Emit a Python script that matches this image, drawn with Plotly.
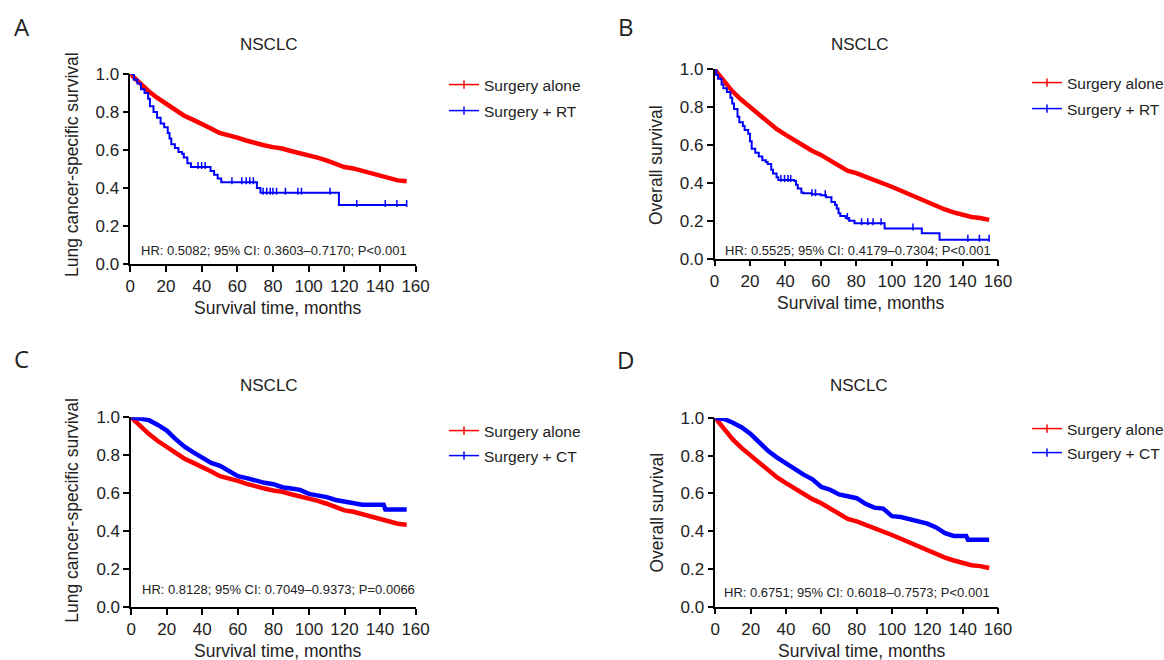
import numpy as np
import plotly.graph_objects as go

# ---------------- data ----------------
time_grid = [0, 5, 10, 15, 20, 25, 30, 35, 40, 45, 50, 55, 60, 65, 70, 75, 80, 85,
             90, 95, 100, 105, 110, 115, 120, 125, 130, 135, 140, 145, 150, 155]
# Surgery alone, lung cancer-specific survival (panels A, C)
alone_lcss = [1.0, 0.955, 0.912, 0.875, 0.845, 0.815, 0.782, 0.76, 0.74, 0.715, 0.69, 0.68,
              0.665, 0.65, 0.635, 0.625, 0.615, 0.608, 0.595, 0.585, 0.57, 0.56, 0.545, 0.525,
              0.51, 0.503, 0.49, 0.475, 0.46, 0.45, 0.44, 0.435]
# Surgery alone, overall survival (panels B, D)
alone_os = [1.0, 0.94, 0.885, 0.84, 0.8, 0.765, 0.725, 0.685, 0.655, 0.625, 0.595, 0.57,
            0.548, 0.52, 0.495, 0.465, 0.452, 0.435, 0.415, 0.395, 0.38, 0.36, 0.34, 0.315,
            0.3, 0.28, 0.26, 0.245, 0.23, 0.22, 0.215, 0.205]

# Surgery + RT, LCSS (panel A) - step curve
rt_lcss_t = [0, 2, 4, 6, 8, 10, 11, 13, 15, 17, 19, 21, 22, 23, 25, 27, 29, 30, 32, 34,
             45, 47, 49, 51, 71, 73, 117, 155]
rt_lcss_s = [1.0, 0.97, 0.95, 0.92, 0.90, 0.87, 0.83, 0.80, 0.77, 0.74, 0.72, 0.69, 0.66,
             0.63, 0.61, 0.59, 0.58, 0.56, 0.53, 0.51, 0.49, 0.47, 0.45, 0.43, 0.40, 0.375,
             0.31, 0.31]
rt_lcss_cens = [38, 40, 42, 57, 62.5, 65, 67, 69, 74.5, 76.5, 78.5, 80, 82, 87, 94, 96,
                112, 127, 143, 149.5, 155]

# Surgery + RT, OS (panel B) - step curve
rt_os_t = [0, 1, 2, 4, 5, 7, 9, 10, 11, 13, 14, 16, 17, 19, 20, 21, 23, 25, 27, 29, 30, 32,
           33, 35, 36, 45, 46, 47, 49, 50, 55, 60, 63, 66, 68, 69, 70, 71, 74, 76, 79, 96,
           117, 127, 155]
rt_os_s = [1.0, 0.97, 0.95, 0.92, 0.90, 0.88, 0.85, 0.82, 0.79, 0.75, 0.72, 0.70, 0.68,
           0.66, 0.62, 0.58, 0.56, 0.54, 0.52, 0.51, 0.50, 0.47, 0.45, 0.43, 0.415, 0.41,
           0.39, 0.37, 0.35, 0.345, 0.34, 0.335, 0.325, 0.30, 0.285, 0.265, 0.24, 0.225,
           0.215, 0.20, 0.187, 0.16, 0.134, 0.10, 0.10]
rt_os_cens = [37.5, 39.5, 41.5, 43, 55, 57, 62.5, 75, 83, 86.5, 89.5, 94, 112, 143, 149.5, 155]

# Surgery + CT (panels C, D)
ct_t = [0, 5, 10, 15, 20, 25, 30, 35, 40, 45, 50, 55, 60, 65, 70, 75, 80, 85, 90, 95, 100,
        105, 110, 115, 120, 125, 130, 135, 140, 142, 143, 145, 150, 155]
ct_lcss = [1.0, 0.995, 0.985, 0.96, 0.93, 0.885, 0.845, 0.815, 0.79, 0.76, 0.745, 0.72,
           0.69, 0.68, 0.665, 0.655, 0.648, 0.632, 0.625, 0.618, 0.597, 0.59, 0.58, 0.565,
           0.558, 0.55, 0.54, 0.54, 0.54, 0.54, 0.515, 0.515, 0.515, 0.515]
ct_os = [1.0, 0.995, 0.975, 0.95, 0.915, 0.87, 0.825, 0.79, 0.76, 0.725, 0.70, 0.675,
         0.635, 0.62, 0.595, 0.585, 0.575, 0.545, 0.525, 0.52, 0.48, 0.475, 0.465, 0.455,
         0.44, 0.42, 0.39, 0.375, 0.375, 0.375, 0.355, 0.355, 0.355, 0.355]

x_ticks = [0, 20, 40, 60, 80, 100, 120, 140, 160]
y_ticks = [0.0, 0.2, 0.4, 0.6, 0.8, 1.0]
panel_letters = ["A", "B", "C", "D"]
y_titles = ["Lung cancer-specific survival", "Overall survival",
            "Lung cancer-specific survival", "Overall survival"]
hr_texts = ["HR: 0.5082; 95% CI: 0.3603–0.7170; P<0.001",
            "HR: 0.5525; 95% CI: 0.4179–0.7304; P<0.001",
            "HR: 0.8128; 95% CI: 0.7049–0.9373; P=0.0066",
            "HR: 0.6751; 95% CI: 0.6018–0.7573; P<0.001"]
legend_names = [["Surgery alone", "Surgery + RT"], ["Surgery alone", "Surgery + RT"],
                ["Surgery alone", "Surgery + CT"], ["Surgery alone", "Surgery + CT"]]

RED = "#FF0000"
BLUE = "#0000FF"
FONT = "Liberation Sans, Arial, Helvetica, sans-serif"
TXT = "#222222"

W, H = 1164, 660


def px_x(p):
    return p / W


def px_y(p):
    return 1 - p / H


# layout geometry (pixels)
dom = [
    dict(x=(130.3, 415.6), y=(264.0, 74.0)),
    dict(x=(714.5, 998.0), y=(258.7, 69.3)),
    dict(x=(131.2, 415.6), y=(607.3, 417.3)),
    dict(x=(715.3, 998.0), y=(606.7, 418.0)),
]


def step_value(ts, ss, t):
    i = np.searchsorted(np.array(ts), t, side="right") - 1
    return ss[max(i, 0)]


fig = go.Figure()

curves = [
    [(time_grid, alone_lcss, RED, 4.5, "linear"), (rt_lcss_t, rt_lcss_s, BLUE, 2, "hv")],
    [(time_grid, alone_os, RED, 4.5, "linear"), (rt_os_t, rt_os_s, BLUE, 2, "hv")],
    [(time_grid, alone_lcss, RED, 4.5, "linear"), (ct_t, ct_lcss, BLUE, 4.5, "linear")],
    [(time_grid, alone_os, RED, 4.5, "linear"), (ct_t, ct_os, BLUE, 4.5, "linear")],
]
cens = [(rt_lcss_t, rt_lcss_s, rt_lcss_cens), (rt_os_t, rt_os_s, rt_os_cens), None, None]

for k in range(4):
    xa = "x" if k == 0 else f"x{k+1}"
    ya = "y" if k == 0 else f"y{k+1}"
    for (tt, ss, col, w, shape) in curves[k]:
        fig.add_trace(go.Scatter(x=tt, y=ss, mode="lines", line=dict(color=col, width=w, shape=shape),
                                 xaxis=xa, yaxis=ya, showlegend=False, hoverinfo="skip"))
    if cens[k] is not None:
        ts, ss, ct = cens[k]
        cy = [step_value(ts, ss, c) + 0.008 for c in ct]
        fig.add_trace(go.Scatter(x=ct, y=cy, mode="markers",
                                 marker=dict(symbol="line-ns-open", size=5, color=BLUE,
                                             line=dict(color=BLUE, width=1.5)),
                                 xaxis=xa, yaxis=ya, showlegend=False, hoverinfo="skip"))
    # legend-only entries
    for j, (nm, col) in enumerate(zip(legend_names[k], [RED, BLUE])):
        lg = f"legend{2*k + j + 1}" if (2*k + j) > 0 else "legend"
        fig.add_trace(go.Scatter(x=[None], y=[None], mode="lines+markers", name=nm,
                                 line=dict(color=col, width=1.5),
                                 marker=dict(symbol="line-ns-open", size=6, color=col,
                                             line=dict(color=col, width=1.5)),
                                 xaxis=xa, yaxis=ya, legend=lg, showlegend=True))

layout = dict(width=W, height=H, margin=dict(l=0, r=0, t=0, b=0, autoexpand=False),
              paper_bgcolor="white", plot_bgcolor="white",
              font=dict(family=FONT, color=TXT, size=16))

axis_common = dict(showline=True, linecolor="black", linewidth=1.5, ticks="outside",
                   ticklen=6, tickwidth=1.5, tickcolor="black", showgrid=False,
                   zeroline=False, tickfont=dict(family=FONT, size=17, color=TXT),
                   fixedrange=True, automargin=False)

annotations = []
legend_y = [(85, 111), (83, 109), (431, 456), (429, 453)]
legend_x = [444, 1027, 444, 1027]
title_pos = [(269, 45), (860, 45), (269, 385), (859, 385)]
letter_pos = [(21.5, 26.5), (625.5, 26.5), (21.5, 358), (625.5, 359)]
ytitle_pos = [(72, 165), (656, 165), (72, 510.7), (656, 512.5)]
hr_pos = [(139, 250), (722.7, 250), (140, 589), (721.7, 592)]

for k in range(4):
    d = dom[k]
    sx = "" if k == 0 else str(k + 1)
    layout["xaxis" + sx] = dict(axis_common, domain=[px_x(d["x"][0]), px_x(d["x"][1])],
                                range=[0, 160], tickvals=x_ticks, anchor="y" + sx)
    layout["yaxis" + sx] = dict(axis_common, domain=[px_y(d["y"][0]), px_y(d["y"][1])],
                                range=[0, 1], tickvals=y_ticks, tickformat=".1f",
                                anchor="x" + sx)
    xc = (d["x"][0] + d["x"][1]) / 2 + 5
    annotations.append(dict(text="Survival time, months", xref="paper", yref="paper",
                            x=px_x(xc), y=px_y(d["y"][0] + 44), xanchor="center",
                            yanchor="middle", showarrow=False,
                            font=dict(family=FONT, size=17.5, color=TXT)))
    annotations.append(dict(text=y_titles[k], xref="paper", yref="paper",
                            x=px_x(ytitle_pos[k][0]), y=px_y(ytitle_pos[k][1]), textangle=-90,
                            xanchor="center", yanchor="middle", showarrow=False,
                            font=dict(family=FONT, size=17.5, color=TXT)))
    annotations.append(dict(text="NSCLC", xref="paper", yref="paper",
                            x=px_x(title_pos[k][0]), y=px_y(title_pos[k][1]),
                            xanchor="center", yanchor="middle", showarrow=False,
                            font=dict(family=FONT, size=17, color=TXT)))
    annotations.append(dict(text=panel_letters[k], xref="paper", yref="paper",
                            x=px_x(letter_pos[k][0]), y=px_y(letter_pos[k][1]),
                            xanchor="center", yanchor="middle", showarrow=False,
                            font=dict(family="Open Sans, sans-serif", size=24, color=TXT)))
    annotations.append(dict(text=hr_texts[k], xref="paper", yref="paper",
                            x=px_x(hr_pos[k][0]), y=px_y(hr_pos[k][1]),
                            xanchor="left", yanchor="middle", showarrow=False,
                            font=dict(family=FONT, size=13, color=TXT)))
    for j in range(2):
        idx = 2 * k + j
        lg = f"legend{idx + 1}" if idx > 0 else "legend"
        layout[lg] = dict(x=px_x(legend_x[k]), y=px_y(legend_y[k][j]), xanchor="left",
                          yanchor="middle", xref="paper", yref="paper",
                          bgcolor="rgba(0,0,0,0)", borderwidth=0,
                          font=dict(family=FONT, size=15.5, color=TXT))

layout["annotations"] = annotations
fig.update_layout(**layout)
fig.write_html("out.html", config={"displayModeBar": False},
               post_script="document.body.style.margin='0';document.body.style.overflow='hidden';")
